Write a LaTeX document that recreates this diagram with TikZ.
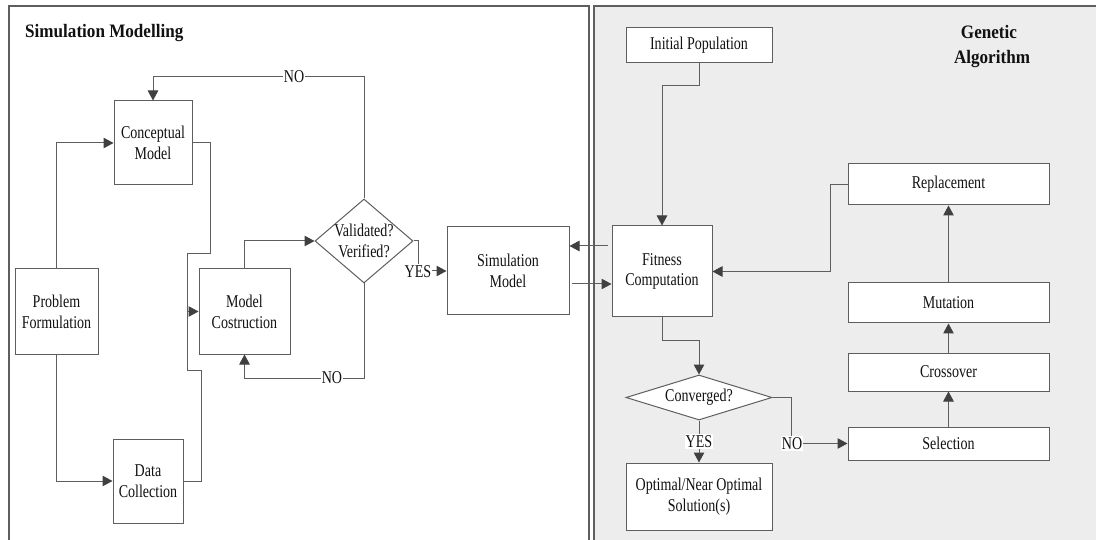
\documentclass[tikz,border=0pt]{standalone}
\usepackage{fontspec}
\setmainfont{Liberation Serif}
\newfontfamily\boxfont[FakeStretch=0.78]{Liberation Serif}
\newfontfamily\headfont[FakeStretch=0.9]{Liberation Serif}
\usetikzlibrary{arrows.meta,shapes.geometric}
\definecolor{linegray}{HTML}{5E5E5E}
\definecolor{tipgray}{HTML}{404040}
\definecolor{panelgray}{HTML}{EDEDED}
\definecolor{inkblack}{HTML}{111111}
\tikzset{
  box/.style={draw=linegray, line width=1pt, fill=white, inner sep=0pt,
    align=center, text=inkblack, font=\boxfont\fontsize{18}{20.7}\selectfont},
  decision/.style={draw=linegray, line width=1pt, fill=white, diamond,
    inner sep=0pt},
  conn/.style={draw=linegray, line width=1pt},
  arr/.style={conn, -{Triangle[length=10pt,width=10.5pt,fill=tipgray,color=tipgray]}},
  lbl/.style={fill=white, inner sep=1pt, text=inkblack,
    font=\boxfont\fontsize{18}{20}\selectfont},
  head/.style={inner sep=0pt, text=inkblack,
    font=\headfont\bfseries\fontsize{19}{25}\selectfont},
  panel/.style={draw=linegray, line width=1.1pt}
}
\begin{document}
\begin{tikzpicture}[x=1pt, y=-1pt]
\useasboundingbox (0,0) rectangle (1096,540);
\clip (0,0) rectangle (1096,540);

% the two panels
\path[panel, fill=white] (9,6) rectangle (589,560);
\path[panel, fill=panelgray] (594,6) rectangle (1120,560);

% panel headings
\node[head, anchor=base west] (smhead) at (25,38) {Simulation Modelling};
\node[head, anchor=base] (gahead1) at (989,39) {Genetic};
\node[head, anchor=base] (gahead2) at (992,64) {Algorithm};

% simulation modelling boxes
\node[box, minimum width=83pt, minimum height=85pt] (pf) at (56.5,311.5) {Problem\\Formulation};
\node[box, minimum width=78pt, minimum height=84pt] (cm) at (153,143) {Conceptual\\Model};
\node[box, minimum width=70pt, minimum height=84pt] (dc) at (148,481) {Data\\Collection};
\node[box, minimum width=91pt, minimum height=85pt] (mc) at (244.5,311.5) {Model\\Costruction};
\node[decision, minimum width=98pt, minimum height=84pt] (vv) at (364,241) {};
\node[box, draw=none, fill=none] (vvtext) at (364,241) {Validated?\\Verified?};
\node[box, minimum width=122pt, minimum height=88pt] (sm) at (508,271) {Simulation\\Model};

% genetic algorithm boxes
\node[box, minimum width=100pt, minimum height=91pt] (fc) at (662,271.5) {Fitness\\Computation};
\node[box, minimum width=146pt, minimum height=35pt] (ip) at (699,45.5) {Initial Population};
\node[box, minimum width=201pt, minimum height=41pt] (rep) at (948.5,184.5) {Replacement};
\node[box, minimum width=201pt, minimum height=40pt] (mut) at (948.5,303) {Mutation};
\node[box, minimum width=201pt, minimum height=38pt] (cro) at (948.5,372) {Crossover};
\node[box, minimum width=201pt, minimum height=33pt] (sel) at (948.5,443.5) {Selection};
\node[decision, minimum width=146pt, minimum height=45pt] (cv) at (699,397.5) {};
\node[box, draw=none, fill=none] (cvtext) at (699,397.5) {Converged?};
\node[box, minimum width=146pt, minimum height=67pt] (opt) at (699,496.5) {Optimal/Near Optimal\\Solution(s)};

% bend points
\coordinate (cmR) at (210,143);
\coordinate (busTop) at (210,254);
\coordinate (busA) at (187,254);
\coordinate (busB) at (187,370);
\coordinate (busC) at (201,370);
\coordinate (dcR) at (201,481);
\coordinate (busIn) at (187,311.5);
\coordinate (vvUp) at (364,77);
\coordinate (vvDown) at (364,378);
\coordinate (vvR) at (418,241);
\coordinate (yesL) at (418,271);
\coordinate (fcOut) at (608,246);
\coordinate (smOut) at (572,284);
\coordinate (ipDown) at (699,86);
\coordinate (repL) at (830,184.5);
\coordinate (fcDown) at (662,341);
\coordinate (cvR) at (791,397.5);
\coordinate (noR) at (791,443.5);

% simulation modelling connectors
\draw[arr] (pf.north) |- (cm.west);
\draw[arr] (pf.south) |- (dc.west);
\draw[conn] (cm.east) -- (cmR) -- (busTop) -- (busA) -- (busB) -- (busC) -- (dcR) -- (dc.east);
\draw[arr] (busIn) -- (mc.west);
\draw[arr] (mc.north) |- (vv.west);
\draw[arr] (vv.north) -- (vvUp) -| (cm.north);
\node[lbl] (no1) at (294,77) {NO};
\draw[arr] (vv.south) -- (vvDown) -| (mc.south);
\node[lbl] (no2) at (332,378) {NO};
\draw[arr] (vv.east) -- (vvR) -- (yesL) -- (sm.west |- yesL);
\node[lbl] (yes1) at (418,271.5) {YES};

% links between the panels
\draw[arr] (fcOut) -- (sm.east |- fcOut);
\draw[arr] (smOut) -- (fc.west |- smOut);

% genetic algorithm connectors
\draw[arr] (ip.south) -- (ipDown) -| (fc.north);
\draw[arr] (rep.west) -- (repL) |- (fc.east);
\draw[arr] (sel.north) -- (cro.south);
\draw[arr] (cro.north) -- (mut.south);
\draw[arr] (mut.north) -- (rep.south);
\draw[arr] (fc.south) -- (fcDown) -| (cv.north);
\draw[arr] (cv.south) -- (opt.north);
\node[lbl] (yes2) at (699,441.5) {YES};
\draw[arr] (cv.east) -- (cvR) -- (noR) -- (sel.west);
\node[lbl] (no3) at (792,443.5) {NO};
\end{tikzpicture}
\end{document}
